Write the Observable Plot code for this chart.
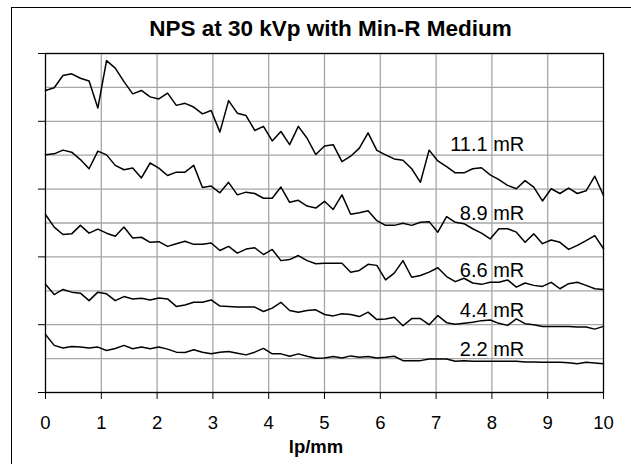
<!DOCTYPE html>
<html>
<head>
<meta charset="utf-8">
<script src="https://cdn.jsdelivr.net/npm/d3@7"></script>
<script src="https://cdn.jsdelivr.net/npm/@observablehq/plot@0.6"></script>
<style>
  html, body { margin: 0; padding: 0; background: #fff; overflow: hidden; }
  #wrap { position: relative; width: 631px; height: 464px; }
  #border { position: absolute; left: 11px; top: 7px; width: 700px; height: 520px; border: 1px solid #000; box-sizing: border-box; pointer-events: none; }
  #chart { position: absolute; left: 0; top: 0; }
</style>
</head>
<body>
<div id="wrap"><div id="chart"></div><div id="border"></div></div>
<script>
const title = "NPS at 30 kVp with Min-R Medium";
const xLabel = "lp/mm";
const xTicks = [0, 1, 2, 3, 4, 5, 6, 7, 8, 9, 10];
const yGrid = [0, 1, 2, 3, 4, 5, 6, 7, 8, 9, 10];
const yTicks = [0, 2, 4, 6, 8, 10];

const freq = [0, 0.156, 0.313, 0.469, 0.625, 0.781, 0.938, 1.094, 1.25, 1.406, 1.563, 1.719, 1.875, 2.031, 2.188, 2.344, 2.5,
  2.656, 2.813, 2.969, 3.125, 3.281, 3.438, 3.594, 3.75, 3.906, 4.063, 4.219, 4.375, 4.531, 4.688, 4.844, 5,
  5.156, 5.313, 5.469, 5.625, 5.781, 5.938, 6.094, 6.25, 6.406, 6.563, 6.719, 6.875, 7.031, 7.188, 7.344, 7.5,
  7.656, 7.813, 7.969, 8.125, 8.281, 8.438, 8.594, 8.75, 8.906, 9.063, 9.219, 9.375, 9.531, 9.688, 9.844, 10];

const nps111 = [8.91, 8.99, 9.35, 9.40, 9.27, 9.19, 8.39, 9.79, 9.57, 9.17, 8.81, 8.91, 8.72, 8.66, 8.83, 8.47, 8.53,
  8.42, 8.22, 8.32, 7.68, 8.61, 8.24, 8.17, 7.73, 7.85, 7.42, 7.70, 7.31, 7.85, 7.50, 7.02, 7.27,
  7.31, 6.81, 6.97, 7.21, 7.66, 7.14, 7.01, 6.89, 6.85, 6.60, 6.20, 7.15, 6.83, 6.66, 6.48, 6.48,
  6.60, 6.63, 6.42, 6.28, 6.11, 6.01, 6.25, 6.06, 5.65, 6.01, 5.87, 6.03, 5.87, 5.95, 6.38, 5.81];
const nps89 = [7.01, 7.04, 7.15, 7.09, 6.87, 6.60, 7.12, 7.01, 6.70, 6.57, 6.62, 6.33, 6.77, 6.62, 6.40, 6.50, 6.50,
  6.70, 6.05, 6.09, 5.89, 6.20, 5.83, 5.91, 5.87, 5.73, 5.73, 6.06, 5.61, 5.67, 5.50, 5.44, 5.64,
  5.40, 5.83, 5.26, 5.30, 5.36, 5.07, 4.93, 4.93, 4.99, 4.93, 5.02, 5.04, 4.73, 5.19, 5.02, 4.98,
  4.83, 4.70, 4.53, 4.83, 4.83, 4.73, 4.43, 4.68, 4.39, 4.50, 4.43, 4.22, 4.34, 4.48, 4.63, 4.24];
const nps66 = [5.25, 4.88, 4.66, 4.68, 4.93, 4.70, 4.82, 4.70, 4.61, 4.88, 4.56, 4.58, 4.43, 4.45, 4.31, 4.39, 4.46,
  4.37, 4.37, 4.41, 4.19, 4.31, 4.11, 4.23, 4.27, 4.07, 4.22, 3.89, 3.92, 4.04, 3.89, 3.80, 3.81,
  3.81, 3.81, 3.55, 3.60, 3.78, 3.75, 3.32, 3.52, 3.89, 3.40, 3.45, 3.55, 3.68, 3.42, 3.27, 3.37,
  3.23, 3.19, 3.25, 3.25, 3.32, 3.11, 3.23, 3.16, 3.13, 3.25, 3.06, 3.21, 3.25, 3.16, 3.06, 3.04];
const nps44 = [3.19, 2.89, 3.04, 2.96, 2.93, 2.71, 2.96, 2.91, 2.71, 2.83, 2.76, 2.78, 2.73, 2.79, 2.76, 2.54, 2.58,
  2.66, 2.66, 2.73, 2.55, 2.54, 2.52, 2.52, 2.52, 2.39, 2.49, 2.66, 2.42, 2.37, 2.42, 2.44, 2.30,
  2.26, 2.32, 2.30, 2.24, 2.37, 2.15, 2.17, 2.22, 1.97, 2.18, 2.18, 2.00, 2.27, 2.06, 2.01, 2.04,
  2.07, 2.12, 2.14, 2.04, 1.98, 2.17, 2.03, 2.00, 1.95, 1.95, 1.95, 1.95, 1.93, 1.93, 1.87, 1.95];
const nps22 = [1.71, 1.39, 1.31, 1.36, 1.34, 1.31, 1.34, 1.24, 1.30, 1.39, 1.29, 1.34, 1.29, 1.34, 1.28, 1.19, 1.18,
  1.26, 1.19, 1.14, 1.19, 1.21, 1.16, 1.11, 1.19, 1.30, 1.14, 1.14, 1.07, 1.14, 1.07, 1.01, 1.02,
  1.06, 1.02, 1.08, 1.04, 1.06, 1.02, 1.04, 1.07, 0.94, 0.94, 0.94, 0.99, 0.99, 0.99, 0.92, 0.94,
  0.92, 0.92, 0.92, 0.92, 0.92, 0.92, 0.90, 0.90, 0.89, 0.89, 0.89, 0.88, 0.85, 0.89, 0.87, 0.85];

const seriesNames = ["11.1 mR", "8.9 mR", "6.6 mR", "4.4 mR", "2.2 mR"];
const seriesValues = [nps111, nps89, nps66, nps44, nps22];
const labelX = [8.58, 8.58, 8.58, 8.58, 8.58];
const labelY = [7.32, 5.28, 3.60, 2.42, 1.27];

const rows = seriesNames.flatMap((name, si) =>
  seriesValues[si].map((v, i) => ({ f: freq[i], v, s: name })));
const labels = seriesNames.map((name, i) => ({ name, x: labelX[i], y: labelY[i] }));

const chart = Plot.plot({
  width: 631,
  height: 464,
  marginLeft: 45,
  marginRight: 28,
  marginTop: 53,
  marginBottom: 72,
  style: { fontFamily: "'Liberation Sans', Arial, sans-serif", background: "transparent", color: "#000" },
  x: { domain: [0, 10] },
  y: { domain: [0, 10] },
  marks: [
    Plot.gridX(xTicks, { stroke: "#a6a6a6", strokeOpacity: 1, strokeWidth: 1.3 }),
    Plot.gridY(yGrid, { stroke: "#a6a6a6", strokeOpacity: 1, strokeWidth: 1.3 }),
    Plot.frame({ stroke: "#000", strokeWidth: 1.2 }),
    Plot.axisX(xTicks, { tickSize: 7, tickPadding: 16, fontSize: 18.5, label: null, tickFormat: d => String(d) }),
    Plot.axisY(yTicks, { tickSize: 7, tickFormat: () => null, label: null }),
    Plot.line(rows, { x: "f", y: "v", z: "s", stroke: "#000", strokeWidth: 1.5 }),
    Plot.text(labels, { x: "x", y: "y", text: "name", textAnchor: "end", fontSize: 20, fill: "#000" }),
    Plot.text([title], { text: d => d, frameAnchor: "top", lineAnchor: "middle", dy: -25, dx: 6, fontSize: 22.5, fontWeight: "bold", fill: "#000" }),
    Plot.text([xLabel], { text: d => d, frameAnchor: "bottom", lineAnchor: "middle", dy: 55, dx: -8.5, fontSize: 18.5, fontWeight: "bold", fill: "#000" })
  ]
});
document.getElementById("chart").appendChild(chart);
</script>
</body>
</html>
